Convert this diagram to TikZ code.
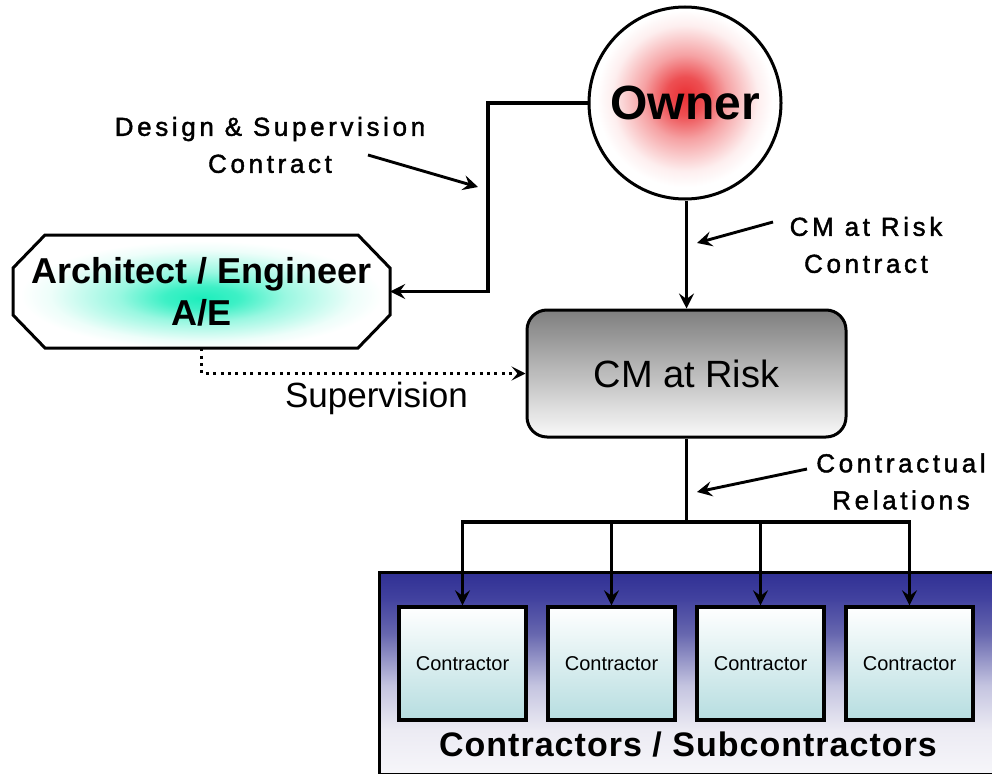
\documentclass[tikz,border=0pt]{standalone}
\usepackage{fontspec}
\setmainfont{Liberation Sans}
\newfontfamily\trackedfont[LetterSpace=14,FakeBold=1.6]{Liberation Sans}
\newfontfamily\bandfont[LetterSpace=3]{Liberation Sans}
\usetikzlibrary{arrows.meta,calc}

\definecolor{ownred}{RGB}{234,48,52}
\definecolor{aeteal}{RGB}{28,238,188}
\definecolor{cmtop}{RGB}{126,126,126}
\definecolor{cmbot}{RGB}{250,250,250}
\definecolor{ctop}{RGB}{255,255,255}
\definecolor{cbot}{RGB}{182,221,224}
\definecolor{bandA}{RGB}{48,48,148}
\definecolor{bandB}{RGB}{64,64,158}
\definecolor{bandC}{RGB}{102,102,174}
\definecolor{bandD}{RGB}{196,196,224}
\definecolor{bandE}{RGB}{236,235,243}
\definecolor{bandF}{RGB}{246,246,250}

% red glow of the owner circle
\pgfdeclareradialshading{ownerglow}{\pgfpoint{0bp}{2bp}}{%
  color(0bp)=(ownred); color(5bp)=(ownred!85!white);
  color(11bp)=(ownred!45!white); color(19bp)=(ownred!8!white);
  color(23bp)=(white); color(50bp)=(white)}
% green glow of the architect box
\pgfdeclareradialshading{aeglow}{\pgfpoint{0bp}{-3bp}}{%
  color(0bp)=(aeteal); color(5bp)=(aeteal!85!white);
  color(11bp)=(aeteal!45!white); color(20bp)=(aeteal!8!white);
  color(24bp)=(white); color(50bp)=(white)}
% blue band behind the contractors
\pgfdeclareverticalshading{bandshade}{100bp}{%
  color(0bp)=(bandF); color(25bp)=(bandF); color(36bp)=(bandE);
  color(47bp)=(bandD); color(60bp)=(bandC); color(69bp)=(bandB);
  color(75bp)=(bandA); color(100bp)=(bandA)}

\begin{document}
\begin{tikzpicture}[x=1pt,y=-1pt,
  line join=miter,
  tipstyle/.style={-{Stealth[length=15pt,width=15pt,inset=5.5pt]}},
  conn/.style={line width=3.1pt,tipstyle},
  plainline/.style={line width=3.4pt},
  pointer/.style={line width=2.9pt,tipstyle},
  dotline/.style={line width=3pt,dash pattern=on 3pt off 4.4pt,
    -{Stealth[length=14pt,width=14pt,inset=6pt]}},
  lbl/.style={align=center,font=\trackedfont\fontsize{26}{37}\selectfont},
  cbox/.style={draw,line width=3.4pt,minimum width=127pt,minimum height=113pt,
    inner sep=0pt,top color=ctop,bottom color=cbot,
    font=\fontsize{20}{22}\selectfont}]

\useasboundingbox (0,0) rectangle (992,773);
\fill[white] (0,0) rectangle (992,773);

% owner
\node[circle,draw,line width=3pt,minimum size=192pt,inner sep=0pt,
  shade,shading=ownerglow,font=\fontsize{48}{50}\selectfont\bfseries]
  (owner) at (685,103) {Owner};

% architect / engineer octagon
\path[draw,line width=3pt,shade,shading=aeglow]
  (45,235) -- (358,235) -- (390,268) -- (390,315) -- (358,348)
  -- (45,348) -- (13,315) -- (13,268) -- cycle;
\node[minimum width=377pt,minimum height=113pt,inner sep=0pt,align=center,
  font=\fontsize{36}{42}\selectfont\bfseries]
  (ae) at (201.5,291.5) {Architect / Engineer\\A/E};

% construction manager
\node[draw,line width=3pt,rounded corners=20pt,minimum width=319pt,
  minimum height=127pt,inner sep=0pt,top color=cmtop,bottom color=cmbot,
  font=\fontsize{38}{40}\selectfont]
  (cm) at (686.5,373.5) {CM at Risk};

% contractors band
\node[draw,line width=3pt,minimum width=626pt,minimum height=202pt,
  inner sep=0pt,anchor=north west,shade,shading=bandshade]
  (band) at (378,571) {};
\foreach \i/\x in {1/462.5,2/611.5,3/760.5,4/909.5}
  \node[cbox] (c\i) at (\x,663.5) {Contractor};
\node[font=\bandfont\fontsize{34}{36}\selectfont\bfseries]
  (bandlab) at (688,745) {Contractors / Subcontractors};

% contract lines
\coordinate (dbend) at (488,103);
\draw[conn] (owner.west) -- (dbend) |- (ae.east);
\draw[conn] (owner.south -| cm.north) -- (cm.north);
\draw[dotline] (ae.south) |- (cm.west);
\coordinate (bus) at (686.5,522);
\draw[plainline] (cm.south) -- (bus);
\foreach \i in {1,...,4}
  \draw[conn] (bus) -| (c\i.north);

% labels and their pointers
\node[lbl] (dlab) at (270,145) {Design \& Supervision\\Contract};
\node[lbl] (rlab) at (866,245) {CM at Risk\\Contract};
\node[lbl] (clab) at (901,481.5) {Contractual\\Relations};
\node[font=\fontsize{35}{40}\selectfont] (suplab) at (376.5,398.5) {Supervision};

\coordinate (dtail) at (368,155);
\coordinate (dtip) at (478,187);
\draw[pointer] (dtail) -- (dtip);
\coordinate (rtail) at (773,222);
\coordinate (rtip) at (697,243);
\draw[pointer] (rtail) -- (rtip);
\coordinate (ctail) at (807,469);
\coordinate (ctip) at (697,492);
\draw[pointer] (ctail) -- (ctip);
\end{tikzpicture}
\end{document}
